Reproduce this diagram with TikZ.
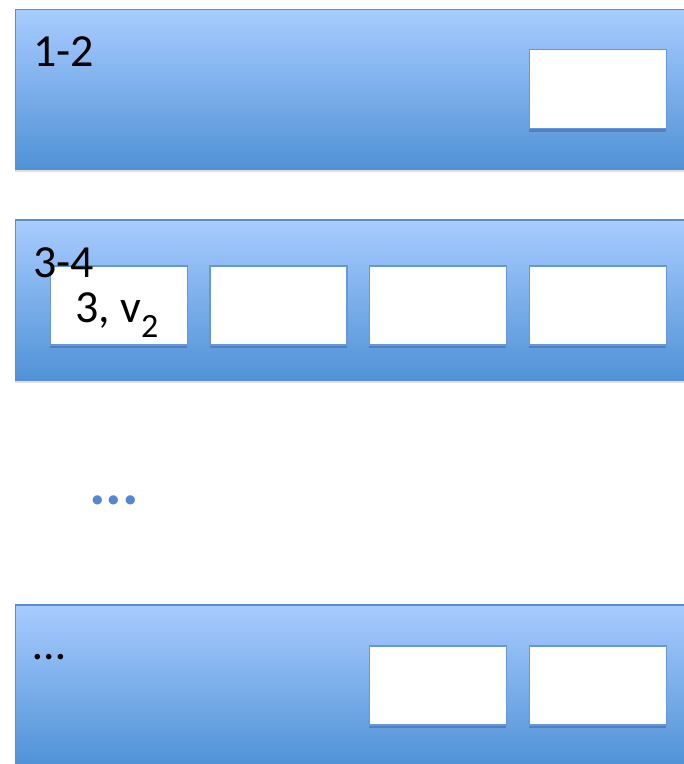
\documentclass[tikz,border=0pt]{standalone}
\usepackage{fontspec}
\setmainfont{Carlito}
\usepackage{xcolor}
\usepackage{tikz}
\usetikzlibrary{shadows}
\definecolor{bandtop}{RGB}{168,204,255}
\definecolor{bandbot}{RGB}{80,146,214}
\definecolor{bandline}{RGB}{92,140,204}
\definecolor{cellline}{RGB}{104,152,212}
\definecolor{dotblue}{RGB}{82,136,210}

\begin{document}
\begin{tikzpicture}[x=1pt,y=-1pt,
  band/.style={draw=bandline,line width=1.5pt,top color=bandtop,bottom color=bandbot,
    minimum width=700pt,minimum height=160pt,anchor=north west,inner sep=0pt,
    drop shadow={opacity=0.25,shadow xshift=0pt,shadow yshift=-3pt}},
  cell/.style={draw=cellline,line width=1.5pt,fill=white,minimum width=137pt,
    minimum height=79pt,anchor=north west,inner sep=0pt,
    drop shadow={fill=black!60!blue,opacity=0.2,shadow xshift=0pt,shadow yshift=-3.5pt}},
  lbl/.style={anchor=base west,inner sep=0pt,font=\fontsize{46}{55}\selectfont}]
\useasboundingbox (0,0) rectangle (684,764);
\clip (0,0) rectangle (684,764);
% layers
\node[band] (row1) at (14.5,8.5) {};
\node[band] (row2) at (14.5,219) {};
\node[band] (row3) at (14.5,604) {};
% slots
\node[cell] (s1a) at (528.5,48.5) {};
\node[cell] (s2a) at (49.5,265) {};
\node[cell] (s2b) at (209,265) {};
\node[cell] (s2c) at (368.5,265) {};
\node[cell] (s2d) at (528.5,265) {};
\node[cell] (s3a) at (368.5,645) {};
\node[cell] (s3b) at (528.5,645) {};
% labels
\node[lbl] (l1) at (33,66) {1-2};
\node[lbl] (l2) at (33,277) {3-4};
\node[lbl] (v2) at (75,322) {3, v{\fontsize{34}{40}\selectfont\raisebox{-15pt}{2}}};
\node[lbl] (l3) at (33,659) {…};
\node[anchor=base,inner sep=0pt,text=dotblue,font=\bfseries\fontsize{62}{70}\selectfont] (more) at (114,504) {...};
\end{tikzpicture}
\end{document}
